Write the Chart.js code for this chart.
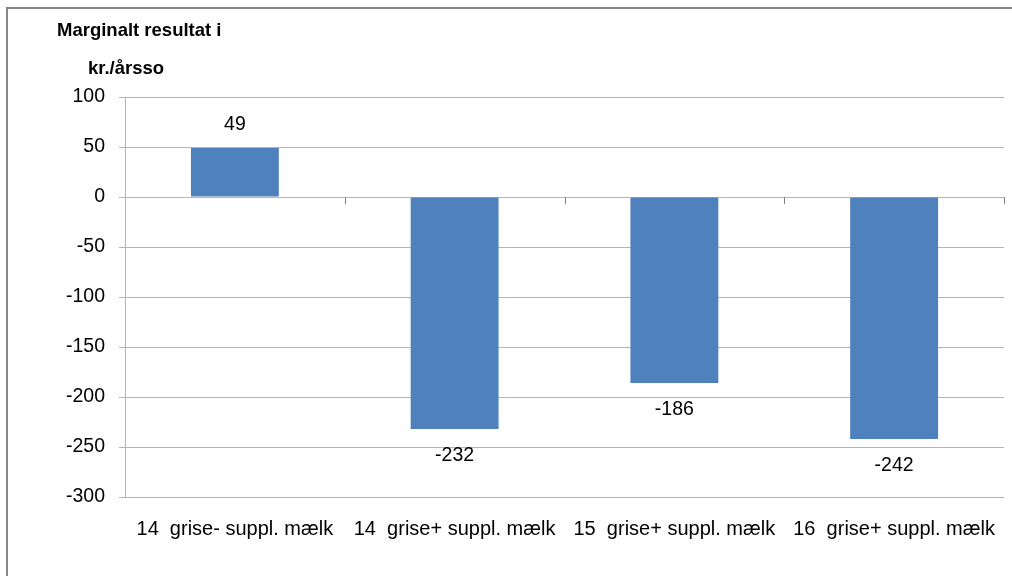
<!DOCTYPE html>
<html>
<head>
<meta charset="utf-8">
<script src="https://cdn.jsdelivr.net/npm/chart.js@4.4.0/dist/chart.umd.min.js"></script>
<style>
    html, body { margin: 0; padding: 0; background: #fff; }
    #wrap { position: relative; width: 1012px; height: 576px; }
</style>
</head>
<body>
<div id="wrap"><canvas id="resultChart" width="1012" height="576"></canvas></div>
<script>
// Data
const categories = ['14  grise- suppl. mælk', '14  grise+ suppl. mælk', '15  grise+ suppl. mælk', '16  grise+ suppl. mælk'];
const values = [49, -232, -186, -242];
const yTicks = [100, 50, 0, -50, -100, -150, -200, -250, -300];
const titleLines = ['Marginalt resultat i', 'kr./årsso'];

const FONT = "'Liberation Sans', Arial, sans-serif";
const gridColor = '#b4b4b4';

// Ramme, titel, værdietiketter og streger ved 0-linjen
const decorPlugin = {
    id: 'decor',
    afterDraw(chart) {
        const ctx = chart.ctx;
        const x = chart.scales.x;
        const y = chart.scales.y;
        ctx.save();

        // ydre ramme (kun venstre og top synlig)
        ctx.strokeStyle = '#868686';
        ctx.lineWidth = 2;
        ctx.beginPath();
        ctx.moveTo(7, 576);
        ctx.lineTo(7, 8);
        ctx.lineTo(1012, 8);
        ctx.stroke();

        // titel
        ctx.fillStyle = '#000';
        ctx.font = 'bold 18.5px ' + FONT;
        ctx.textBaseline = 'middle';
        ctx.textAlign = 'left';
        ctx.fillText(titleLines[0], 57, 31);
        ctx.fillText(titleLines[1], 88, 69);

        // tick-streger ved 0
        const zeroY = y.getPixelForValue(0);
        const half = (x.right - x.left) / categories.length / 2;
        ctx.strokeStyle = '#808080';
        ctx.lineWidth = 1;
        ctx.beginPath();
        for (let i = 0; i < categories.length; i++) {
            const bx = Math.round(x.getPixelForValue(i) + half) + 0.5;
            ctx.moveTo(bx, zeroY);
            ctx.lineTo(bx, zeroY + 7);
        }
        ctx.stroke();

        // værdietiketter
        ctx.font = '19.5px ' + FONT;
        ctx.textAlign = 'center';
        ctx.fillStyle = '#000';
        const meta = chart.getDatasetMeta(0);
        meta.data.forEach((bar, i) => {
            const v = values[i];
            const ly = v >= 0 ? bar.y - 23 : bar.y + 27;
            ctx.fillText(String(v), bar.x, ly);
        });
        ctx.restore();
    }
};

function initChart() {
    const ctx = document.getElementById('resultChart').getContext('2d');
    new Chart(ctx, {
        type: 'bar',
        data: {
            labels: categories,
            datasets: [{
                data: values,
                backgroundColor: '#4f81bd',
                borderWidth: 0,
                categoryPercentage: 1,
                barPercentage: 0.4
            }]
        },
        options: {
            responsive: false,
            animation: false,
            events: [],
            layout: {
                padding: { top: 97, right: 8, bottom: 0, left: 0 }
            },
            plugins: {
                legend: { display: false },
                tooltip: { enabled: false }
            },
            scales: {
                x: {
                    grid: { display: false },
                    border: { display: false },
                    ticks: {
                        color: '#000',
                        font: { family: FONT, size: 20 },
                        padding: 12,
                        maxRotation: 0,
                        autoSkip: false
                    },
                    afterFit(scale) { scale.height = 79; }
                },
                y: {
                    min: -300,
                    max: 100,
                    afterBuildTicks(scale) {
                        scale.ticks = yTicks.map(v => ({ value: v }));
                    },
                    grid: {
                        color: gridColor,
                        lineWidth: 1,
                        tickLength: 6
                    },
                    border: { color: gridColor, width: 1 },
                    ticks: {
                        color: '#000',
                        font: { family: FONT, size: 19.5 },
                        padding: 14
                    },
                    afterFit(scale) { scale.width = 125; }
                }
            }
        },
        plugins: [decorPlugin]
    });
}

document.addEventListener('DOMContentLoaded', initChart);
</script>
</body>
</html>
